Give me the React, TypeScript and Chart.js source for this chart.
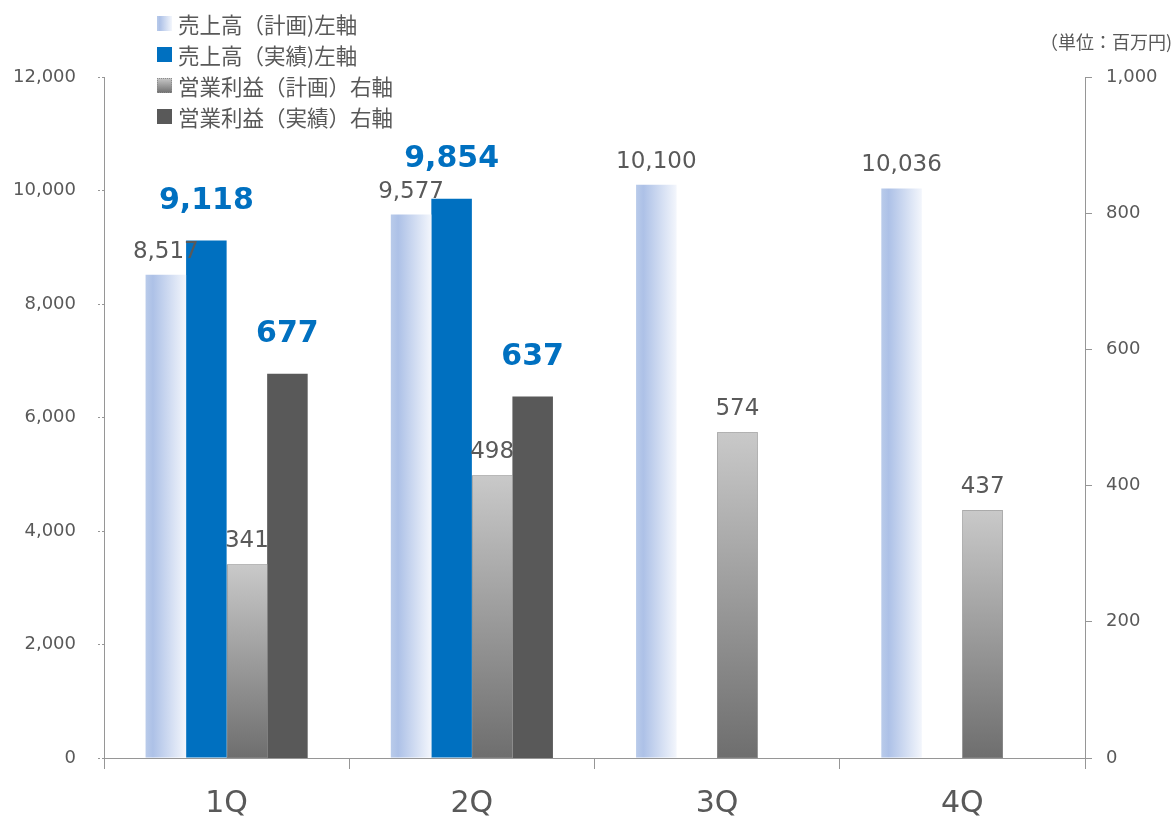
import { useEffect, useRef } from 'react'
import Chart from 'chart.js/auto'

const quarters = ['1Q', '2Q', '3Q', '4Q']
const salesPlan = [8517, 9577, 10100, 10036]
const salesActual: (number | null)[] = [9118, 9854, null, null]
const profitPlan = [341, 498, 574, 437]
const profitActual: (number | null)[] = [677, 637, null, null]

const INK = '#595959'
const AXIS = '#969696'
const BLUE = '#0070c0'
const NUM_FONT = '"DejaVu Sans", Verdana, sans-serif'
const JP_FONT = '"Noto Sans CJK JP", "Noto Sans", sans-serif'

const fmt = (n: number) => n.toLocaleString('en-US')

// per-bar gradients need the bar's pixel box, so they are resolved on the 2nd update
const barOf = (c: any) => {
  if (c.type !== 'data') return null
  const el: any = c.chart.getDatasetMeta(c.datasetIndex).data[c.dataIndex]
  return el && el.width ? el : null
}
const planFill = (c: any) => {
  const el = barOf(c)
  if (!el) return '#c6d4ee'
  const g = c.chart.ctx.createLinearGradient(el.x - el.width / 2, 0, el.x + el.width / 2, 0)
  g.addColorStop(0, '#b9cbea')
  g.addColorStop(0.18, '#adc1e7')
  g.addColorStop(1, '#f3f6fc')
  return g
}
const profitPlanFill = (c: any) => {
  const el = barOf(c)
  if (!el) return '#a0a0a0'
  const g = c.chart.ctx.createLinearGradient(0, el.y, 0, el.base)
  g.addColorStop(0, '#c9c9c9')
  g.addColorStop(1, '#6e6e6e')
  return g
}

const labelStyle = [
  { font: `23px ${NUM_FONT}`, color: INK, gap: 17 },
  { font: `bold 30px ${NUM_FONT}`, color: BLUE, gap: 32 },
  { font: `23px ${NUM_FONT}`, color: INK, gap: 17 },
  { font: `bold 30px ${NUM_FONT}`, color: BLUE, gap: 32 },
]

const valueLabels = {
  id: 'valueLabels',
  afterDatasetsDraw(chart: Chart) {
    const { ctx } = chart
    // dotted outline of the planned-profit bars
    const dotted = chart.getDatasetMeta(2)
    ctx.save()
    ctx.strokeStyle = '#8c8c8c'
    ctx.lineWidth = 1
    ctx.setLineDash([1, 1])
    dotted.data.forEach((el: any) => {
      if (!el || el.y == null) return
      ctx.strokeRect(Math.round(el.x - el.width / 2) + 0.5, Math.round(el.y) + 0.5, Math.round(el.width) - 1, Math.round(el.base - el.y) - 1)
    })
    ctx.restore()

    chart.data.datasets.forEach((ds, i) => {
      const st = labelStyle[i]
      const meta = chart.getDatasetMeta(i)
      ctx.save()
      ctx.font = st.font
      ctx.fillStyle = st.color
      ctx.textAlign = 'center'
      ctx.textBaseline = 'alphabetic'
      meta.data.forEach((el: any, j) => {
        const v = ds.data[j] as number | null
        if (v == null) return
        ctx.fillText(fmt(v), el.x, el.y - st.gap)
      })
      ctx.restore()
    })
  },
}

export default function App() {
  const ref = useRef<HTMLCanvasElement>(null)

  useEffect(() => {
    document.body.style.margin = '0'
    if (!ref.current) return
    const chart = new Chart(ref.current, {
      type: 'bar',
      data: {
        labels: quarters,
        datasets: [
          { label: '売上高（計画)左軸', data: salesPlan, yAxisID: 'y', backgroundColor: planFill },
          { label: '売上高（実績)左軸', data: salesActual, yAxisID: 'y', backgroundColor: BLUE },
          // the source plots profit against 0–1,200 although its right axis reads 0–1,000
          { label: '営業利益（計画）右軸', data: profitPlan, yAxisID: 'yp', backgroundColor: profitPlanFill },
          { label: '営業利益（実績）右軸', data: profitActual, yAxisID: 'yp', backgroundColor: '#595959' },
        ],
      },
      options: {
        responsive: true,
        maintainAspectRatio: false,
        animation: false,
        events: [],
        layout: { padding: { top: 77, left: 0, right: 0, bottom: 0 } },
        datasets: { bar: { categoryPercentage: 0.661, barPercentage: 1, borderWidth: 0 } },
        plugins: { legend: { display: false }, tooltip: { enabled: false } },
        scales: {
          x: {
            afterFit: (s: any) => { s.height = 64 },
            grid: { display: true, drawOnChartArea: false, offset: true, tickLength: 11, color: AXIS },
            border: { color: AXIS },
            ticks: { color: INK, font: { family: NUM_FONT, size: 30 }, padding: 17 },
          },
          y: {
            position: 'left',
            min: 0,
            max: 12000,
            afterFit: (s: any) => { s.width = 104 },
            grid: { drawOnChartArea: false, tickLength: 6, tickColor: AXIS, tickBorderDash: [2, 2] },
            border: { color: AXIS, dash: [2, 2] },
            ticks: { stepSize: 2000, color: INK, font: { family: NUM_FONT, size: 18 }, padding: 22, callback: (v) => fmt(Number(v)) },
          },
          y1: {
            position: 'right',
            min: 0,
            max: 1000,
            afterFit: (s: any) => { s.width = 90 },
            grid: { drawOnChartArea: false, tickLength: 7, tickColor: AXIS },
            border: { color: AXIS },
            ticks: { stepSize: 200, color: INK, font: { family: NUM_FONT, size: 18 }, padding: 14, callback: (v) => fmt(Number(v)) },
          },
          yp: {
            position: 'right',
            display: false,
            min: 0,
            max: 1200,
          },
        },
      },
      plugins: [valueLabels],
    })
    chart.update()
    return () => chart.destroy()
  }, [])

  return (
    <div style={{ position: 'relative', width: 1175, height: 822, background: '#fff' }}>
      <canvas ref={ref} />
      <div style={legendBox}>
        <LegendRow swatch={{ background: 'linear-gradient(90deg, #b9cbea, #adc1e7 18%, #f3f6fc)' }} label="売上高（計画)左軸" />
        <LegendRow swatch={{ background: BLUE }} label="売上高（実績)左軸" />
        <LegendRow swatch={{ background: 'linear-gradient(#c9c9c9, #6e6e6e)', outline: '1px dotted #8c8c8c', outlineOffset: -1 }} label="営業利益（計画）右軸" />
        <LegendRow swatch={{ background: '#595959' }} label="営業利益（実績）右軸" />
      </div>
      <div style={unit}>（単位：百万円)</div>
    </div>
  )
}

function LegendRow({ swatch, label }: { swatch: React.CSSProperties; label: string }) {
  return (
    <div style={{ display: 'flex', alignItems: 'center', height: 31 }}>
      <span style={{ width: 15, height: 15, marginRight: 6, ...swatch }} />
      <span>{label}</span>
    </div>
  )
}

const legendBox: React.CSSProperties = {
  position: 'absolute',
  left: 157,
  top: 8,
  fontFamily: JP_FONT,
  fontSize: 21.5,
  color: INK,
  lineHeight: 1,
  whiteSpace: 'nowrap',
}
const unit: React.CSSProperties = {
  position: 'absolute',
  right: 3,
  top: 31,
  fontFamily: JP_FONT,
  fontSize: 18,
  color: INK,
  lineHeight: 1.2,
  whiteSpace: 'nowrap',
}
